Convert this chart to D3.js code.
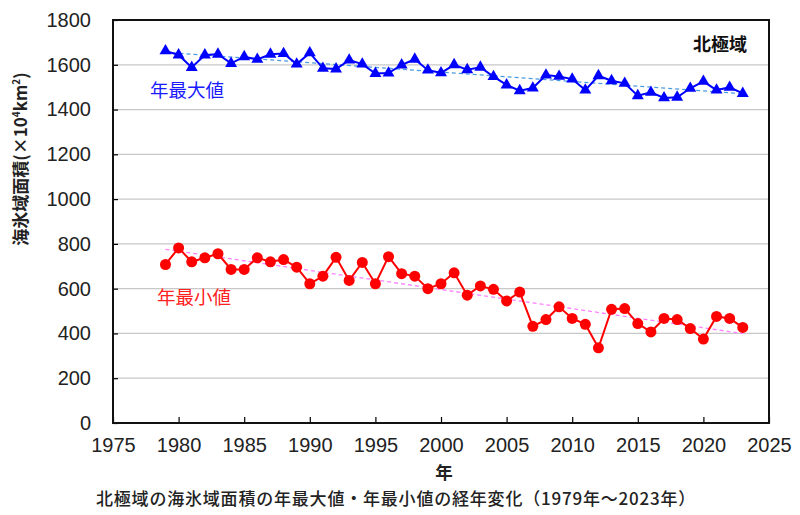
<!DOCTYPE html>
<html>
<head>
<meta charset="utf-8">
<script src="https://cdn.jsdelivr.net/npm/d3@7"></script>
<style>
  body { margin: 0; background: #fff; }
  text { font-family: "Noto Sans CJK JP", "Noto Sans", sans-serif; }
  .tick text { font-family: "Liberation Sans Narrow", "Liberation Sans", sans-serif; }
</style>
</head>
<body>
<div id="chart"></div>
<script>
// years 1979-2023
const years = d3.range(1979, 2024);

// annual maximum (x10^4 km2)
const maxValues = [1662, 1644, 1588, 1644, 1647, 1606, 1636, 1624, 1647, 1650,
    1603, 1653, 1584, 1581, 1621, 1603, 1561, 1563, 1599, 1625,
    1576, 1564, 1600, 1578, 1589, 1547, 1510, 1484, 1496, 1554,
    1548, 1536, 1487, 1551, 1529, 1517, 1462, 1477, 1452, 1455,
    1495, 1526, 1487, 1499, 1472];

// annual minimum
const minValues = [708, 782, 720, 738, 756, 686, 686, 738, 720, 730,
    696, 622, 656, 740, 637, 717, 622, 743, 667, 656,
    600, 622, 671, 571, 612, 597, 545, 585, 432, 462,
    519, 467, 441, 336, 508, 511, 444, 407, 467, 462,
    422, 375, 476, 467, 427];

const xTicks = d3.range(1975, 2026, 5);
const yTicks = d3.range(0, 1801, 200);

const width = 800, height = 515;
const margin = {top: 20, right: 31, bottom: 92, left: 113};

const svg = d3.select('#chart')
    .append('svg')
    .attr('width', width)
    .attr('height', height);

const x = d3.scaleLinear([1975, 2025], [margin.left, width - margin.right]);
const y = d3.scaleLinear([0, 1800], [height - margin.bottom, margin.top]);

// gridlines
svg.append('g')
    .selectAll('line')
    .data(yTicks.slice(1, -1))
    .join('line')
    .attr('x1', x(1975))
    .attr('x2', x(2025))
    .attr('y1', d => y(d))
    .attr('y2', d => y(d))
    .attr('stroke', '#c8c8c8')
    .attr('stroke-width', 1.2);

// axes with inward ticks
const xAxis = svg.append('g')
    .attr('transform', `translate(0,${y(0)})`)
    .call(d3.axisBottom(x).tickValues(xTicks).tickFormat(d3.format('d')).tickSizeInner(-6).tickSizeOuter(0).tickPadding(15));
xAxis.select('.domain').remove();
xAxis.selectAll('line').attr('stroke', '#000').attr('stroke-width', 1.2);
xAxis.selectAll('text').attr('font-size', 20).attr('fill', '#222');

const yAxis = svg.append('g')
    .attr('transform', `translate(${x(1975)},0)`)
    .call(d3.axisLeft(y).tickValues(yTicks).tickFormat(d3.format('d')).tickSizeInner(-5).tickSizeOuter(0).tickPadding(22));
yAxis.select('.domain').remove();
yAxis.selectAll('line').attr('stroke', '#000').attr('stroke-width', 1.2);
yAxis.selectAll('text').attr('font-size', 20).attr('fill', '#222');

// frame
svg.append('rect')
    .attr('x', x(1975))
    .attr('y', y(1800))
    .attr('width', x(2025) - x(1975))
    .attr('height', y(0) - y(1800))
    .attr('fill', 'none')
    .attr('stroke', '#111')
    .attr('stroke-width', 2);

// linear trend
function trend(vals) {
    const mx = d3.mean(years), my = d3.mean(vals);
    const b = d3.sum(years, (t, i) => (t - mx) * (vals[i] - my)) / d3.sum(years, t => (t - mx) ** 2);
    return t => my + b * (t - mx);
}

function drawSeries(vals, color, trendColor, symbol, size) {
    const f = trend(vals);
    svg.append('line')
        .attr('x1', x(years[0]))
        .attr('x2', x(years[years.length - 1]))
        .attr('y1', y(f(years[0])))
        .attr('y2', y(f(years[years.length - 1])))
        .attr('stroke', trendColor)
        .attr('stroke-width', 1.3)
        .attr('stroke-dasharray', '4,3');

    svg.append('path')
        .datum(vals)
        .attr('fill', 'none')
        .attr('stroke', color)
        .attr('stroke-width', 2)
        .attr('d', d3.line().x((d, i) => x(years[i])).y(d => y(d)));

    svg.append('g')
        .selectAll('path')
        .data(vals)
        .join('path')
        .attr('transform', (d, i) => `translate(${x(years[i])},${y(d)})`)
        .attr('d', d3.symbol(symbol, size))
        .attr('fill', color);
}

drawSeries(maxValues, '#0000ff', '#4a9be0', d3.symbolTriangle, 62);
drawSeries(minValues, '#ff0000', '#ff80ff', d3.symbolCircle, 95);

// labels
svg.append('text')
    .attr('x', 150).attr('y', 97)
    .attr('font-size', 18.5)
    .attr('fill', '#1a1aff')
    .text('年最大値');

svg.append('text')
    .attr('x', 157).attr('y', 304)
    .attr('font-size', 18.5)
    .attr('fill', '#ff2020')
    .text('年最小値');

svg.append('text')
    .attr('x', 747).attr('y', 51)
    .attr('text-anchor', 'end')
    .attr('font-size', 18)
    .attr('font-weight', 'bold')
    .attr('fill', '#111')
    .text('北極域');

// y title
const yTitle = svg.append('text')
    .attr('transform', 'translate(27,159) rotate(-90)')
    .attr('text-anchor', 'middle')
    .attr('font-size', 17)
    .attr('font-weight', 'bold')
    .attr('fill', '#222');
yTitle.append('tspan').text('海氷域面積(×10');
yTitle.append('tspan').attr('font-size', 10).attr('dy', -7).text('4');
yTitle.append('tspan').attr('dy', 7).text('km');
yTitle.append('tspan').attr('font-size', 10).attr('dy', -7).text('2');
yTitle.append('tspan').attr('dy', 7).text(')');

// x title
svg.append('text')
    .attr('x', 444).attr('y', 479)
    .attr('text-anchor', 'middle')
    .attr('font-size', 17.5)
    .attr('font-weight', 'bold')
    .attr('fill', '#222')
    .text('年');

// caption
svg.append('text')
    .attr('x', 96).attr('y', 505)
    .attr('font-size', 17)
    .attr('font-weight', 500)
    .attr('letter-spacing', 0.8)
    .attr('fill', '#222')
    .text('北極域の海氷域面積の年最大値・年最小値の経年変化（1979年～2023年）');
</script>
</body>
</html>
